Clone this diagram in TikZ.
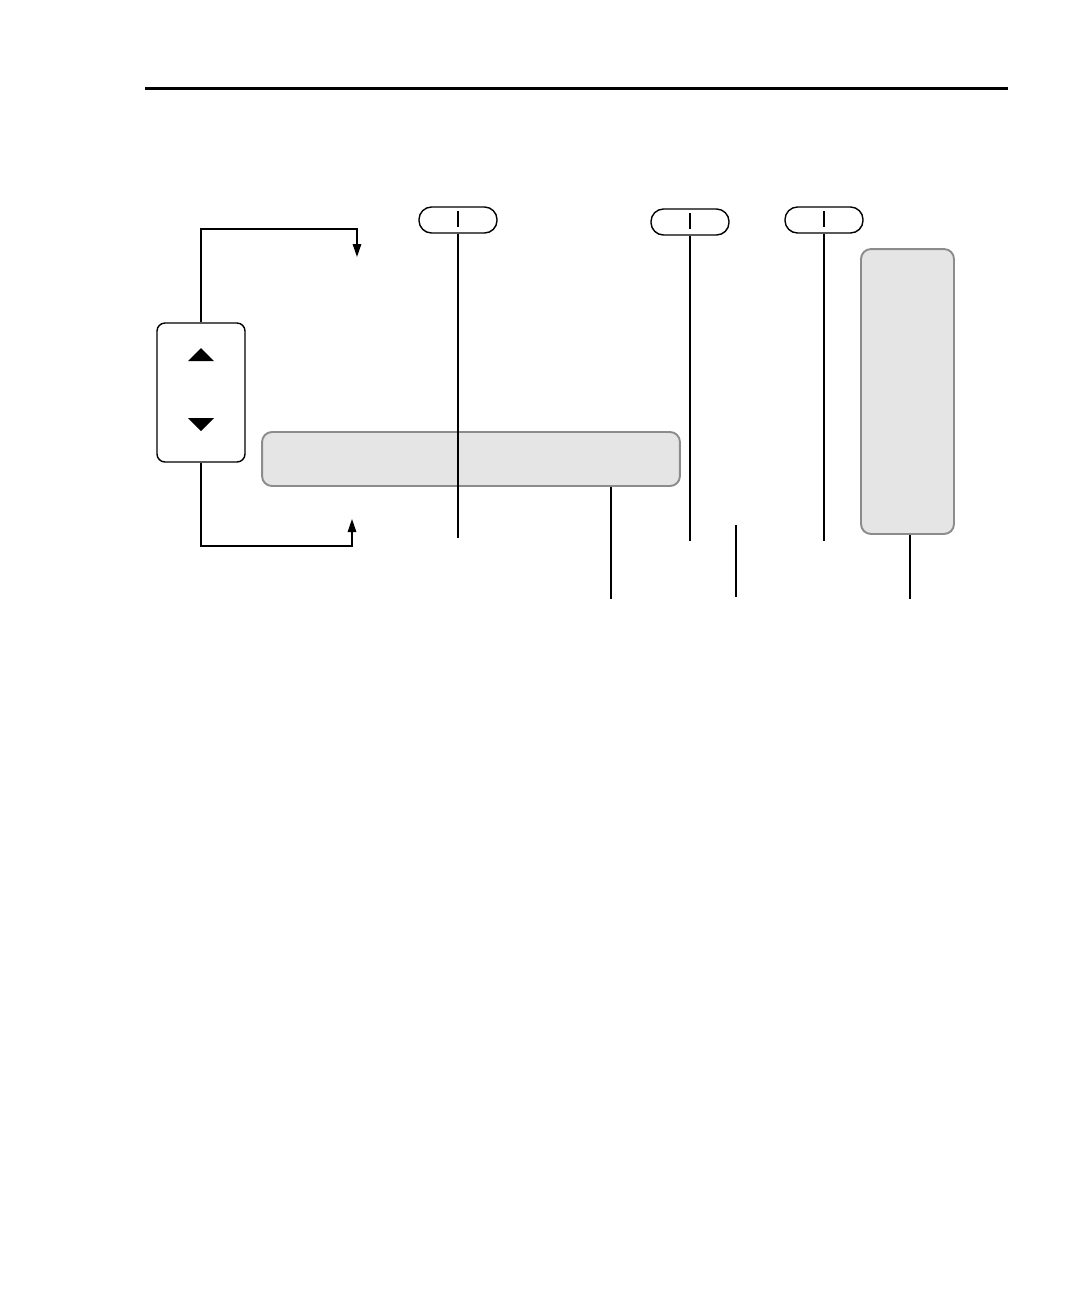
\documentclass[tikz,border=0pt]{standalone}
\usepackage{tikz}
\usetikzlibrary{calc,arrows.meta}
\tikzset{%
  keybox/.style={draw=black,line width=0.8pt,rounded corners=0.16cm,inner sep=0,
    minimum width=1.76cm,minimum height=2.78cm},
  lcdbox/.style={draw=black!45,fill=gray!20,line width=1.1pt,rounded corners=0.2cm,inner sep=0},
  pill/.style={draw=black,line width=0.8pt,rounded corners=0.25cm,inner sep=0,
    minimum width=1.56cm,minimum height=0.52cm},
  lead/.style={draw=black,line width=0.8pt},
  flow/.style={lead,-{Triangle[length=0.26cm,width=0.17cm]}}
}
\begin{document}
\begin{tikzpicture}[x=0.02cm,y=-0.02cm]
    \useasboundingbox (0,0) rectangle (1080,1296);
    % header rule
    \draw[line width=1.7pt] (145,88) -- (1008,88);
    % keypad and displays
    \node[keybox] (kp) at (201,392.5) {};
    \node[lcdbox,minimum width=8.36cm,minimum height=1.08cm] (bar) at (471,459) {};
    \node[lcdbox,minimum width=1.86cm,minimum height=5.7cm] (col) at (907.5,391.5) {};
    \node[pill] (p1) at (458,220) {};
    \node[pill] (p2) at (690,222) {};
    \node[pill] (p3) at (824,220) {};
    % arrow keys
    \fill (188,361) -- (201,348) -- (214,361) -- cycle;
    \fill (188,418) -- (214,418) -- (201,431) -- cycle;
    % pill ticks
    \foreach \p in {p1,p2,p3}
      \draw[lead] ($(\p.center)+(0,-9)$) -- ($(\p.center)+(0,7)$);
    % free ends
    \coordinate (uptop) at (357,229);
    \coordinate (upin) at (357,257);
    \coordinate (dnbot) at (352,546);
    \coordinate (dnin) at (352,519);
    \coordinate (p1end) at (458,538);
    \coordinate (p2end) at (690,541);
    \coordinate (p3end) at (824,541);
    \coordinate (barend) at (611,599);
    \coordinate (midtop) at (736,525);
    \coordinate (midend) at (736,597);
    \coordinate (colend) at (910,599);
    % connectors
    \draw[flow] (kp.north) |- (uptop) -- (upin);
    \draw[flow] (kp.south) |- (dnbot) -- (dnin);
    \draw[lead] (p1.south) -- (p1end);
    \draw[lead] (p2.south) -- (p2end);
    \draw[lead] (p3.south) -- (p3end);
    \draw[lead] (bar.south -| barend) -- (barend);
    \draw[lead] (midtop) -- (midend);
    \draw[lead] (col.south -| colend) -- (colend);
  \end{tikzpicture}
\end{document}
